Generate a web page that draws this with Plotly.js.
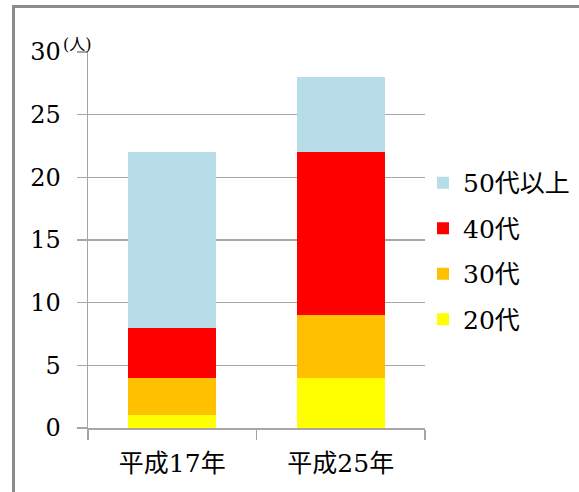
<!DOCTYPE html>
<html>
<head>
<meta charset="utf-8">
<script src="https://cdn.plot.ly/plotly-3.0.1.min.js"></script>
<style>
  html, body { margin: 0; padding: 0; background: #fff; }
  #wrap { position: relative; width: 579px; height: 492px; }
  #chart { position: absolute; left: 0; top: 0; width: 579px; height: 492px; }
  #frame { position: absolute; left: 12px; top: 5px; right: 0; bottom: 0;
           border-top: 3px solid #8c8c8c; border-left: 3px solid #8c8c8c; pointer-events: none; }
</style>
</head>
<body>
<div id="wrap">
  <div id="chart"></div>
  <div id="frame"></div>
</div>
<script>
const categories = ['平成17年', '平成25年'];
const seriesNames = ['20代', '30代', '40代', '50代以上'];
const age20 = [1, 4];
const age30 = [3, 5];
const age40 = [4, 13];
const age50plus = [14, 6];
const yTicks = [0, 5, 10, 15, 20, 25, 30];

const colors = ['#FFFF00', '#FFC000', '#FF0000', '#B7DDE8'];
const values = [age20, age30, age40, age50plus];

const FONT = 'DejaVu Serif, "Noto Sans CJK JP", serif';

const traces = values.map((v, i) => ({
  type: 'bar',
  name: seriesNames[i],
  x: categories,
  y: v,
  legendgroup: 'g' + i,
  legendrank: 10 - i,
  marker: { color: colors[i], line: { width: 0 } },
  hoverinfo: 'none'
}));

const layout = {
  width: 579,
  height: 492,
  margin: { l: 88, r: 154, t: 52, b: 63.5, autoexpand: false },
  paper_bgcolor: 'rgba(0,0,0,0)',
  plot_bgcolor: 'rgba(0,0,0,0)',
  barmode: 'stack',
  bargap: 0.48,
  font: { family: FONT, size: 24, color: '#000' },
  showlegend: true,
  legend: {
    xref: 'container', yref: 'container',
    x: 0.7306, xanchor: 'left',
    y: 0.6748, yanchor: 'top',
    traceorder: 'grouped',
    tracegroupgap: 10,
    font: { family: FONT, size: 25, color: '#000' },
    bgcolor: 'rgba(0,0,0,0)'
  },
  xaxis: {
    type: 'category',
    showline: true, linecolor: '#A6A6A6', linewidth: 1.5,
    ticks: 'outside', tickson: 'boundaries', ticklen: 10, tickcolor: '#A6A6A6', tickwidth: 1.5,
    showgrid: false,
    ticklabelstandoff: 12,
    tickfont: { family: FONT, size: 25 },
    automargin: false,
    fixedrange: true
  },
  yaxis: {
    range: [0, 30],
    tickvals: yTicks,
    ticktext: yTicks.map(String),
    showline: true, linecolor: '#A6A6A6', linewidth: 1.5,
    ticks: 'outside', ticklen: 10, tickcolor: '#A6A6A6', tickwidth: 1.5,
    showgrid: true, gridcolor: '#A6A6A6', gridwidth: 1.5,
    zeroline: false,
    ticklabelstandoff: 11,
    tickfont: { family: FONT, size: 24 },
    automargin: false,
    fixedrange: true
  },
  annotations: [{
    text: '(人)',
    xref: 'paper', yref: 'paper',
    x: 0, y: 1, xanchor: 'right', yanchor: 'bottom',
    xshift: 6, yshift: -4,
    showarrow: false,
    font: { family: FONT, size: 16, color: '#000' }
  }]
};

Plotly.newPlot('chart', traces, layout, { displayModeBar: false, staticPlot: true });
</script>
</body>
</html>
